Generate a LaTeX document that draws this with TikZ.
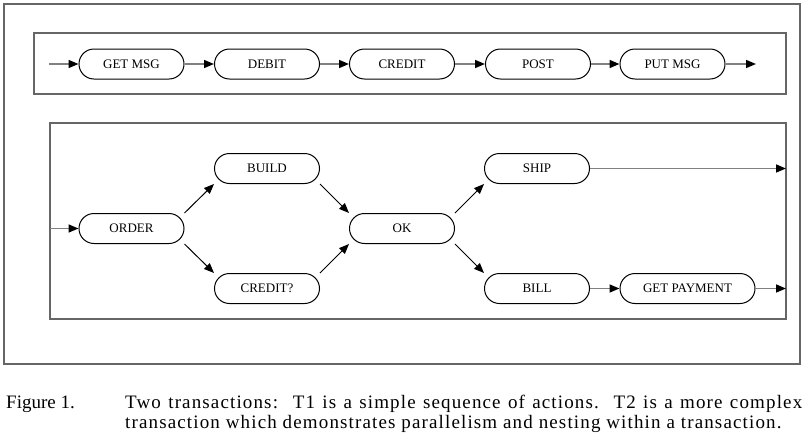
\documentclass[tikz,border=0pt]{standalone}
\usepackage{fontspec}
\setmainfont{Liberation Serif}
\newfontfamily\capfont[LetterSpace=6]{Liberation Serif}
\usetikzlibrary{arrows.meta}
\begin{document}
\begin{tikzpicture}[x=1pt,y=-1pt,
  act/.style={draw=black, line width=1pt, rounded corners=15pt, minimum width=105pt, minimum height=30pt, inner sep=0pt, font=\fontsize{13}{15}\selectfont},
  frame/.style={draw=black!60, line width=1.6pt},
  hflow/.style={draw=black!50, line width=1.5pt, -{Triangle[length=10pt,width=8pt,color=black]}},
  dflow/.style={draw=black, line width=1pt, -{Triangle[length=10pt,width=8pt]}}
]
\useasboundingbox (0,0) rectangle (807,445);
% frames
\draw[frame] (4,4) rectangle (800,364);
\draw[frame] (34,33) rectangle (786,94);
\draw[frame] (50,123) rectangle (786,319);
% T1
\coordinate (t1in) at (49,64);
\coordinate (t1out) at (756,64);
\node[act] (getmsg) at (131.5,64) {GET MSG};
\node[act] (debit) at (267,64) {DEBIT};
\node[act] (credit) at (402,64) {CREDIT};
\node[act] (post) at (538,64) {POST};
\node[act] (putmsg) at (672.5,64) {PUT MSG};
\draw[hflow] (t1in) -- (getmsg);
\draw[hflow] (getmsg) -- (debit);
\draw[hflow] (debit) -- (credit);
\draw[hflow] (credit) -- (post);
\draw[hflow] (post) -- (putmsg);
\draw[hflow] (putmsg) -- (t1out);
% T2
\coordinate (t2in) at (50,228.5);
\coordinate (shipout) at (786,168.5);
\coordinate (payout) at (786,288.5);
\node[act] (order) at (131.5,228.5) {ORDER};
\node[act] (build) at (267,168.5) {BUILD};
\node[act] (creditq) at (267,288.5) {CREDIT?};
\node[act] (ok) at (402,228.5) {OK};
\node[act] (ship) at (537,168.5) {SHIP};
\node[act] (bill) at (537,288.5) {BILL};
\node[act, minimum width=135pt] (getpay) at (687.5,288.5) {GET PAYMENT};
\draw[hflow] (t2in) -- (order);
\draw[dflow] (order.north east) -- (build.south west);
\draw[dflow] (order.south east) -- (creditq.north west);
\draw[dflow] (build.south east) -- (ok.north west);
\draw[dflow] (creditq.north east) -- (ok.south west);
\draw[dflow] (ok.north east) -- (ship.south west);
\draw[dflow] (ok.south east) -- (bill.north west);
\draw[hflow] (ship) -- (shipout);
\draw[hflow] (bill) -- (getpay);
\draw[hflow] (getpay) -- (payout);
% caption
\node[anchor=base west, inner sep=0pt, font=\fontsize{19}{20.5}\selectfont] (figlabel) at (6,408) {Figure 1.};
\node[anchor=base west, inner sep=0pt, text width=677pt, align=justify, font=\capfont\fontsize{19}{20.5}\selectfont] (caption) at (125,408) {Two transactions:\ \ T1 is a simple sequence of actions.\ \ T2 is a more complex\linebreak transaction which demonstrates parallelism and nesting within a transaction.};
\end{tikzpicture}
\end{document}
